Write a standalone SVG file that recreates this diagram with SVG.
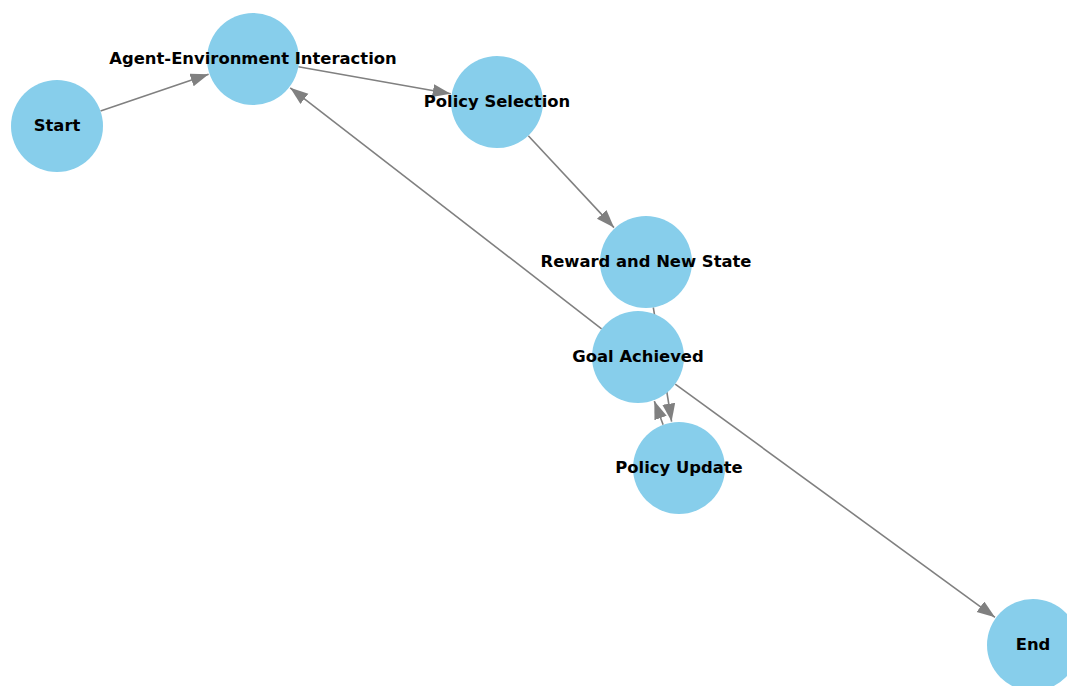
<svg xmlns="http://www.w3.org/2000/svg" width="1067" height="686" viewBox="0 0 1067 686">
<style>
.edge{stroke:#808080;stroke-width:1.6;fill:none;marker-end:url(#arrow)}
.node circle{fill:#87CEEB}
.node text{font-family:"DejaVu Sans",sans-serif;font-weight:bold;font-size:16.4px;fill:#000;text-anchor:middle;dominant-baseline:central}
</style>
<defs>
<marker id="arrow" markerUnits="userSpaceOnUse" markerWidth="19" markerHeight="14" refX="18" refY="6.5" orient="auto">
<path d="M0,0 L18,6.5 L0,13 z" fill="#808080"/>
</marker>
</defs>
<rect width="1067" height="686" fill="#fff"/>
<g id="edges">
<line class="edge" x1="100.5" y1="111.1" x2="208.6" y2="74.2"/>
<line class="edge" x1="298.3" y1="66.8" x2="450.7" y2="93.8"/>
<line class="edge" x1="528.3" y1="135.7" x2="614.0" y2="227.6"/>
<line class="edge" x1="653.3" y1="307.4" x2="671.6" y2="421.6"/>
<line class="edge" x1="663.1" y1="424.8" x2="654.3" y2="401.1"/>
<line class="edge" x1="601.6" y1="328.8" x2="290.2" y2="87.8"/>
<line class="edge" x1="675.2" y1="384.1" x2="995.0" y2="617.3"/>
</g>
<g id="node-start" class="node"><circle cx="57" cy="126" r="46"/><text x="57" y="125">Start</text></g>
<g id="node-agent" class="node"><circle cx="253" cy="59" r="46"/><text x="253" y="58">Agent-Environment Interaction</text></g>
<g id="node-policy-selection" class="node"><circle cx="497" cy="102" r="46"/><text x="497" y="101">Policy Selection</text></g>
<g id="node-reward" class="node"><circle cx="646" cy="262" r="46"/><text x="646" y="261">Reward and New State</text></g>
<g id="node-goal" class="node"><circle cx="638" cy="357" r="46"/><text x="638" y="356">Goal Achieved</text></g>
<g id="node-policy-update" class="node"><circle cx="679" cy="468" r="46"/><text x="679" y="467">Policy Update</text></g>
<g id="node-end" class="node"><circle cx="1033" cy="645" r="46"/><text x="1033" y="644">End</text></g>
</svg>
